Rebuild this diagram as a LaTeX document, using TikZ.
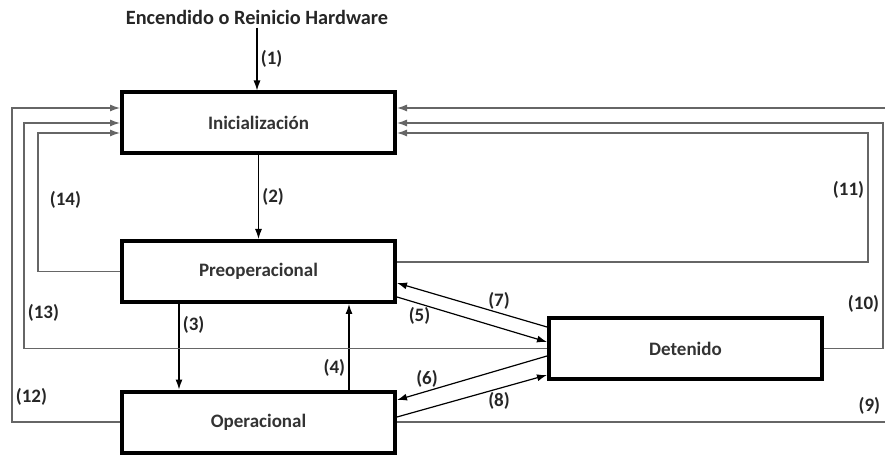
\documentclass[tikz,border=0pt]{standalone}
\usepackage{fontspec}
\setmainfont{Carlito}
\usetikzlibrary{arrows.meta, positioning, calc}

\begin{document}
\begin{tikzpicture}[x=1pt, y=1pt, node distance=83.5pt,
    estado/.style={rectangle, draw, line width=4pt, minimum width=273pt, minimum height=61pt,
        font=\fontsize{19}{22}\selectfont\bfseries, text=black!80},
    etiq/.style={font=\fontsize{19}{22}\selectfont\bfseries, text=black!85},
    flecha/.style={-{Latex[length=10pt,width=7pt]}, line width=1.2pt},
    lazo/.style={flecha, draw=black!60}]
    \useasboundingbox (0,0) rectangle (885,455);
    \clip (0,0) rectangle (885,455);

    \node (init) [estado] at (258.5,332) {Inicialización};
    \node (preop) [estado, below=of init] {Preoperacional};
    \node (oper) [estado, below=85.5pt of preop] {Operacional};
    \node (deten) [estado] at ($(preop)+(427,-77)$) {Detenido};
    \node (hw) [etiq, font=\fontsize{20.3}{23}\selectfont\bfseries] at (257,438) {Encendido o Reinicio Hardware};

    \draw[flecha] (hw.south) -- node[etiq, right] {(1)} (hw.south |- init.north);
    \draw[flecha] (init) -- node[etiq, right] {(2)} (preop);
    \draw[flecha] ([xshift=-79.5pt]preop.south) -- node[etiq, pos=0.25, right] {(3)} ([xshift=-79.5pt]oper.north);
    \draw[flecha] ([xshift=90.5pt]oper.north) -- node[etiq, pos=0.25, left] {(4)} ([xshift=90.5pt]preop.south);
    \draw[flecha] ([yshift=-25.5pt]preop.east) -- node[etiq, pos=0.15, below] {(5)} ([yshift=6.5pt]deten.west);
    \draw[flecha] ([yshift=-7.5pt]deten.west) -- node[etiq, pos=0.8, above] {(6)} ([yshift=22pt]oper.east);
    \draw[flecha] ([yshift=21.5pt]deten.west) -- node[etiq, pos=0.32, above] {(7)} ([yshift=-11.5pt]preop.east);
    \draw[flecha] ([yshift=5pt]oper.east) -- node[etiq, pos=0.68, below] {(8)} ([yshift=-26.5pt]deten.west);

    \draw[lazo] (oper.east) -- ++(498,0) |- node[etiq, pos=0.025, left=11pt] {(9)} ([yshift=15pt]init.east);
    \draw[lazo] (deten.east) -- ++(59,0) |- node[etiq, pos=0.1, left] {(10)} (init.east);
    \draw[lazo] ([yshift=9.5pt]preop.east) -- ++(471,0) |- node[etiq, pos=0.28, left] {(11)} ([yshift=-10pt]init.east);
    \draw[lazo] (oper.west) -- ++(-108,0) |- node[etiq, pos=0.04, right] {(12)} ([yshift=15pt]init.west);
    \draw[lazo] (deten.west) -- ++(-523,0) |- node[etiq, pos=0.08, right] {(13)} (init.west);
    \draw[lazo] (preop.west) -- ++(-82,0) |- node[etiq, pos=0.26, right=8pt] {(14)} ([yshift=-10pt]init.west);
\end{tikzpicture}
\end{document}
